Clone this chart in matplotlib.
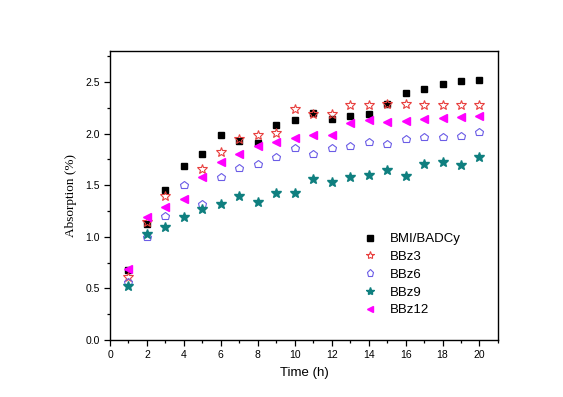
import numpy as np
import matplotlib
matplotlib.use("Agg")
import matplotlib.pyplot as plt
from matplotlib.ticker import MultipleLocator, FormatStrFormatter

# time points (h)
hours = list(range(1, 21))

# absorption (%) per sample
bmi_badcy = [0.68, 1.12, 1.45, 1.69, 1.80, 1.99, 1.93, 1.91, 2.08, 2.13,
             2.20, 2.14, 2.17, 2.19, 2.29, 2.39, 2.43, 2.48, 2.51, 2.52]
bbz3 = [0.61, 1.14, 1.40, np.nan, 1.66, 1.82, 1.95, 1.99, 2.01, 2.24,
        2.19, 2.19, 2.28, 2.28, 2.29, 2.29, 2.28, 2.28, 2.28, 2.28]
bbz6 = [0.56, 1.00, 1.20, 1.50, 1.32, 1.58, 1.67, 1.71, 1.77, 1.86,
        1.80, 1.86, 1.88, 1.92, 1.90, 1.95, 1.97, 1.97, 1.98, 2.02]
bbz9 = [0.52, 1.03, 1.09, 1.19, 1.27, 1.32, 1.40, 1.34, 1.42, 1.42,
        1.56, 1.53, 1.58, 1.60, 1.65, 1.59, 1.71, 1.72, 1.70, 1.77]
bbz12 = [0.69, 1.19, 1.29, 1.37, 1.58, 1.72, 1.80, 1.88, 1.92, 1.96,
         1.99, 1.99, 2.10, 2.13, 2.11, 2.12, 2.14, 2.15, 2.16, 2.17]

labels = ["BMI/BADCy", "BBz3", "BBz6", "BBz9", "BBz12"]

fig = plt.figure(figsize=(5.63, 3.97), dpi=100)
ax = fig.add_axes([0.1954, 0.1436, 0.6891, 0.7279])

ax.plot(hours, bmi_badcy, ls="none", marker="s", ms=5, color="black", label=labels[0])
ax.plot(hours, bbz3, ls="none", marker="*", ms=7, mfc="none", mec="#e8403f", mew=0.8, label=labels[1])
ax.plot(hours, bbz6, ls="none", marker="p", ms=6.2, mfc="none", mec="#6b5ce6", mew=0.8, label=labels[2])
ax.plot(hours, bbz9, ls="none", marker="*", ms=7, color="#0f7f7f", label=labels[3])
ax.plot(hours, bbz12, ls="none", marker="<", ms=5.5, color="#ff00ff", label=labels[4])

ax.set_xlim(0, 21)
ax.set_ylim(0, 2.8)
ax.xaxis.set_major_locator(MultipleLocator(2))
ax.xaxis.set_minor_locator(MultipleLocator(1))
ax.yaxis.set_minor_locator(MultipleLocator(0.25))
ax.set_yticks(np.arange(0, 2.6, 0.5))
ax.yaxis.set_major_formatter(FormatStrFormatter("%.1f"))
ax.tick_params(which="both", direction="out", top=False, right=False,
               labelsize=7.5, width=0.9)
ax.tick_params(which="major", length=4)
ax.tick_params(which="minor", length=2.5)
for lab in ax.get_xticklabels() + ax.get_yticklabels():
    lab.set_family("Liberation Sans")
for s in ax.spines.values():
    s.set_linewidth(1.0)

ax.set_xlabel("Time (h)", family="Liberation Sans", fontsize=9.5, labelpad=5)
ax.set_ylabel("Absorption (%)", family="Liberation Serif", fontsize=9.5, labelpad=6)

ax.legend(loc="upper left", bbox_to_anchor=(362 / 563, 1 - 233 / 397),
          bbox_transform=fig.transFigure, frameon=False,
          prop={"family": "Liberation Sans", "size": 9.5},
          handlelength=1.2, handletextpad=0.9, labelspacing=0.42,
          markerscale=0.85, borderaxespad=0, borderpad=0)

fig.savefig("out.png", dpi=100)
